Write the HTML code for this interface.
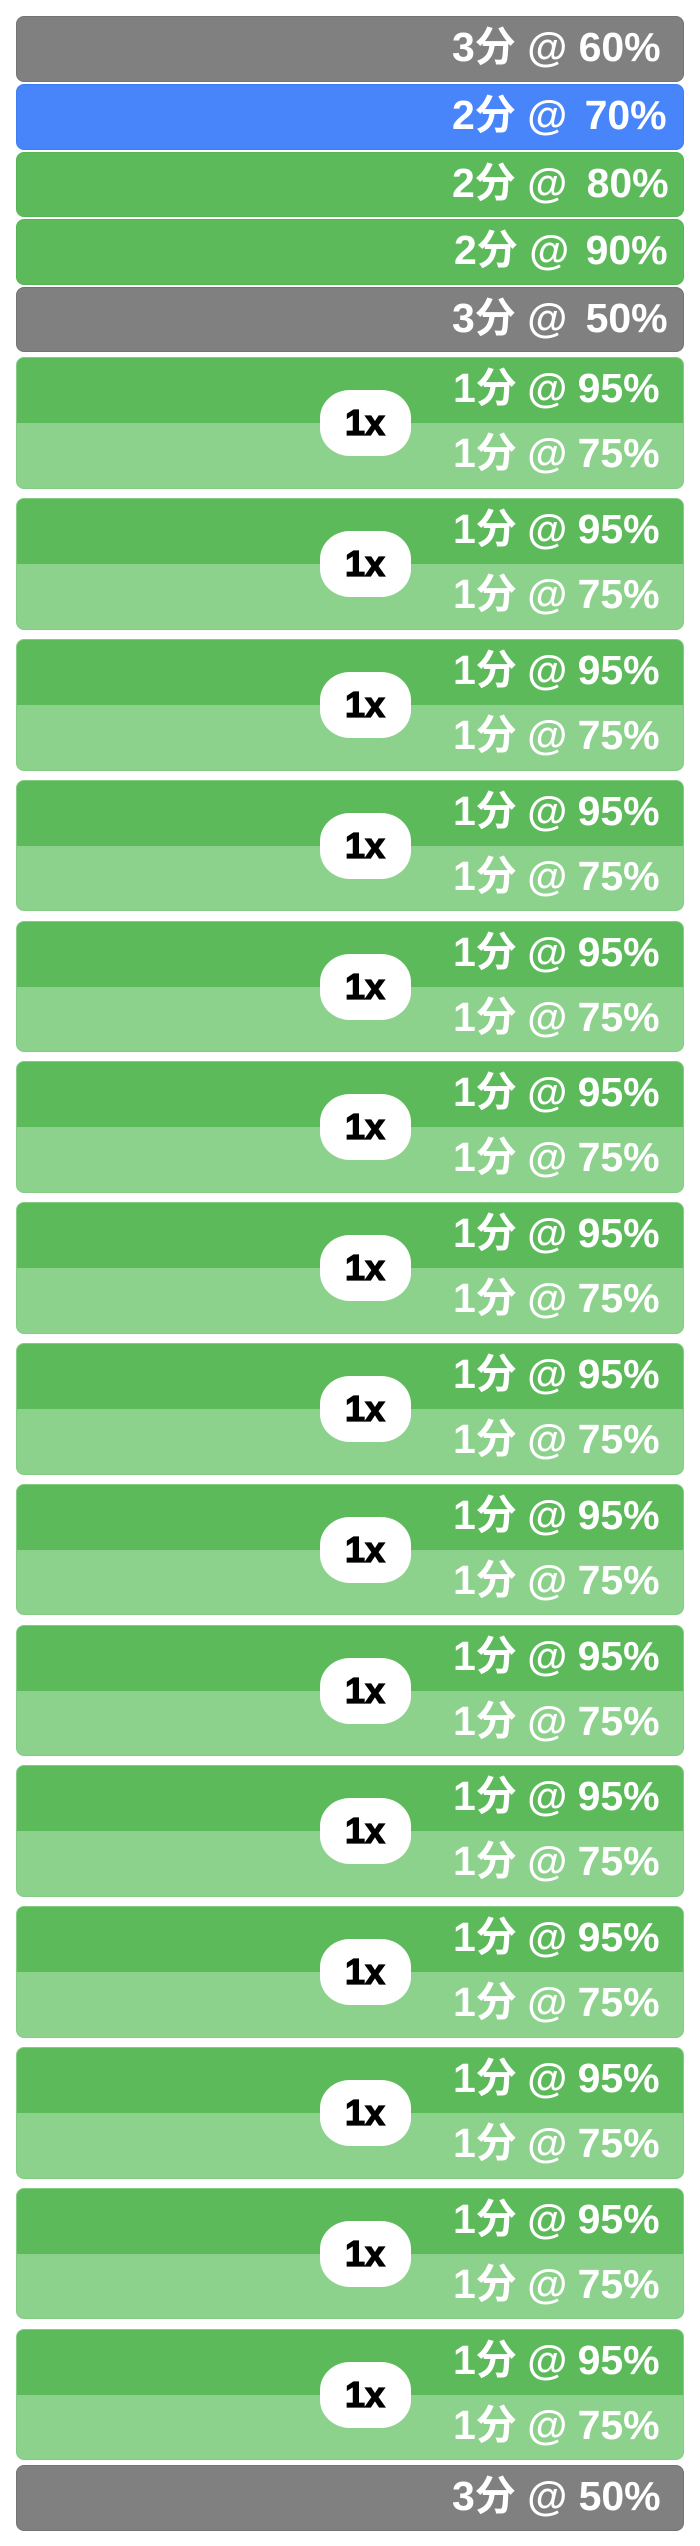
<!DOCTYPE html>
<html>
<head>
<meta charset="utf-8">
<style>
  html,body{margin:0;padding:0;background:#fff;}
  body{width:700px;height:2546px;position:relative;overflow:hidden;
       font-family:"Liberation Sans","Noto Sans CJK SC",sans-serif;}
  .bar{position:absolute;left:16px;width:668px;height:65.5px;border-radius:8px;box-sizing:border-box;
       color:#fff;font-weight:bold;font-size:41px;line-height:63.5px;white-space:pre;}
  .gray{background:#808080;border:1px solid #747474;}
  .blue{background:#4885fb;border:1px solid #3f7ef2;}
  .green{background:#5cba5b;border:1px solid #55b455;}
  .t{position:absolute;left:435px;top:-1px;}
  .card{position:absolute;left:16px;width:668px;height:131.5px;border-radius:8px;overflow:hidden;
        background:#8cd18c;border:1px solid #84cc84;box-sizing:border-box;}
  .card .top{position:absolute;left:0;top:0;right:0;height:65px;background:#5cba5b;}
  .card .l{position:absolute;left:436px;color:#fff;font-weight:bold;font-size:41px;line-height:66px;white-space:pre;word-spacing:-1px;}
  .card .l1{top:-3px;}
  .card .l2{top:62px;}
  .badge{position:absolute;left:319.5px;width:91px;height:66px;background:#fff;border-radius:30px/28px;
         text-align:center;font-family:"Liberation Sans",sans-serif;font-weight:bold;
         font-size:36px;line-height:66px;color:#000;-webkit-text-stroke:1.3px #000;}
</style>
</head>
<body>

<div class="bar gray" style="top:16px;"><span class="t">3分 @ 60%</span></div>
<div class="bar blue" style="top:84px;"><span class="t">2分 @ <span style="margin-left:6px">70%</span></span></div>
<div class="bar green" style="top:151.5px;"><span class="t">2分 @ <span style="margin-left:8px">80%</span></span></div>
<div class="bar green" style="top:219px;"><span class="t" style="left:437px">2分 @ <span style="margin-left:5px">90%</span></span></div>
<div class="bar gray" style="top:286.5px;"><span class="t">3分 @ <span style="margin-left:7px">50%</span></span></div>

<div class="card" style="top:357.4px;"><div class="top"></div><span class="l l1">1分 @ 95%</span><span class="l l2">1分 @ 75%</span></div>
<div class="badge" style="top:390.4px;">1x</div>

<div class="card" style="top:498.2px;"><div class="top"></div><span class="l l1">1分 @ 95%</span><span class="l l2">1分 @ 75%</span></div>
<div class="badge" style="top:531.2px;">1x</div>

<div class="card" style="top:639.0px;"><div class="top"></div><span class="l l1">1分 @ 95%</span><span class="l l2">1分 @ 75%</span></div>
<div class="badge" style="top:672.0px;">1x</div>

<div class="card" style="top:779.8px;"><div class="top"></div><span class="l l1">1分 @ 95%</span><span class="l l2">1分 @ 75%</span></div>
<div class="badge" style="top:812.8px;">1x</div>

<div class="card" style="top:920.6px;"><div class="top"></div><span class="l l1">1分 @ 95%</span><span class="l l2">1分 @ 75%</span></div>
<div class="badge" style="top:953.6px;">1x</div>

<div class="card" style="top:1061.4px;"><div class="top"></div><span class="l l1">1分 @ 95%</span><span class="l l2">1分 @ 75%</span></div>
<div class="badge" style="top:1094.4px;">1x</div>

<div class="card" style="top:1202.2px;"><div class="top"></div><span class="l l1">1分 @ 95%</span><span class="l l2">1分 @ 75%</span></div>
<div class="badge" style="top:1235.2px;">1x</div>

<div class="card" style="top:1343.0px;"><div class="top"></div><span class="l l1">1分 @ 95%</span><span class="l l2">1分 @ 75%</span></div>
<div class="badge" style="top:1376.0px;">1x</div>

<div class="card" style="top:1483.8px;"><div class="top"></div><span class="l l1">1分 @ 95%</span><span class="l l2">1分 @ 75%</span></div>
<div class="badge" style="top:1516.8px;">1x</div>

<div class="card" style="top:1624.6px;"><div class="top"></div><span class="l l1">1分 @ 95%</span><span class="l l2">1分 @ 75%</span></div>
<div class="badge" style="top:1657.6px;">1x</div>

<div class="card" style="top:1765.4px;"><div class="top"></div><span class="l l1">1分 @ 95%</span><span class="l l2">1分 @ 75%</span></div>
<div class="badge" style="top:1798.4px;">1x</div>

<div class="card" style="top:1906.2px;"><div class="top"></div><span class="l l1">1分 @ 95%</span><span class="l l2">1分 @ 75%</span></div>
<div class="badge" style="top:1939.2px;">1x</div>

<div class="card" style="top:2047.0px;"><div class="top"></div><span class="l l1">1分 @ 95%</span><span class="l l2">1分 @ 75%</span></div>
<div class="badge" style="top:2080.0px;">1x</div>

<div class="card" style="top:2187.8px;"><div class="top"></div><span class="l l1">1分 @ 95%</span><span class="l l2">1分 @ 75%</span></div>
<div class="badge" style="top:2220.8px;">1x</div>

<div class="card" style="top:2328.6px;"><div class="top"></div><span class="l l1">1分 @ 95%</span><span class="l l2">1分 @ 75%</span></div>
<div class="badge" style="top:2361.6px;">1x</div>

<div class="bar gray" style="top:2465px;"><span class="t">3分 @ 50%</span></div>

</body>
</html>
